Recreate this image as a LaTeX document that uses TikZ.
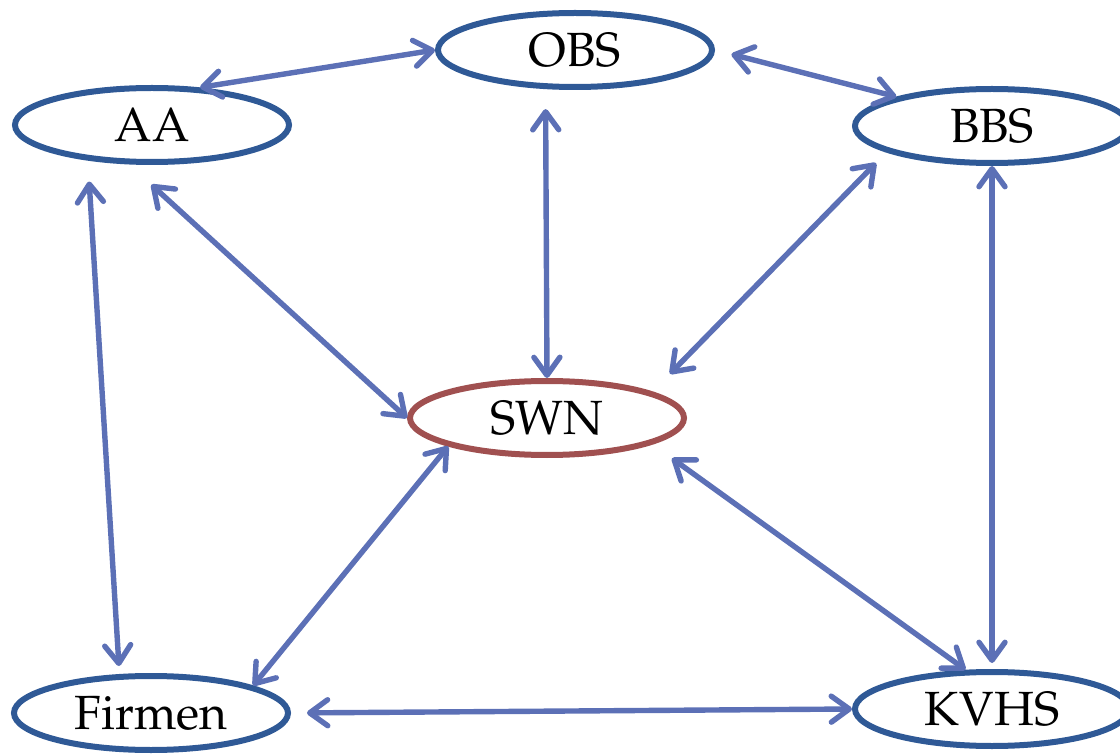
\documentclass[tikz,border=0pt]{standalone}
\usepackage[T1]{fontenc}
\usepackage{mathpazo}
\usetikzlibrary{shapes.geometric,arrows.meta}
\definecolor{ringblue}{RGB}{47,89,150}
\definecolor{ringred}{RGB}{160,80,80}
\definecolor{linkblue}{RGB}{92,112,182}
\begin{document}
\begin{tikzpicture}[x=0.5pt,y=-0.5pt,
	partner/.style={draw=ringblue, ellipse, line width=3pt, minimum width=137pt, minimum height=37pt, inner sep=0pt, font=\fontsize{24}{28}\selectfont},
	link/.style={<->, >={Straight Barb[length=9pt,width=13pt,round]}, draw=linkblue, line width=2.7pt, line cap=round}]
	\useasboundingbox (0,0) rectangle (1120,754);

	\node[partner] (OBS) at (575,50) {OBS};
	\node[partner] (AA) at (152,125) {AA};
	\node[partner] (BBS) at (992,126) {BBS};
	\node[partner, draw=ringred] (SWN) at (547,418) {SWN};
	\node[partner] (Firmen) at (151,713) {Firmen};
	\node[partner] (KVHS) at (992,709) {KVHS};

	\draw[link] (AA.38) -- (OBS.180);
	\draw[link, shorten <=8.5pt] (OBS.0) -- (BBS.163);
	\draw[link, shorten <=10pt] (OBS.233) -- (SWN.90);
	\draw[link, shorten <=15pt] (AA.240) -- (SWN.180);
	\draw[link, shorten <=7.5pt, shorten >=12.5pt] (BBS.194) -- (SWN.14);
	\draw[link, shorten <=10.5pt, shorten >=4pt] (AA.209) -- (Firmen.129);
	\draw[link, shorten >=3pt] (BBS.270) -- (KVHS.90);

	\draw[link] (SWN.196) -- (Firmen.15);
	\draw[link, shorten <=12pt] (SWN.346) -- (KVHS.124);
	\draw[link, shorten <=8pt] (Firmen.0) -- (KVHS.180);
\end{tikzpicture}
\end{document}
